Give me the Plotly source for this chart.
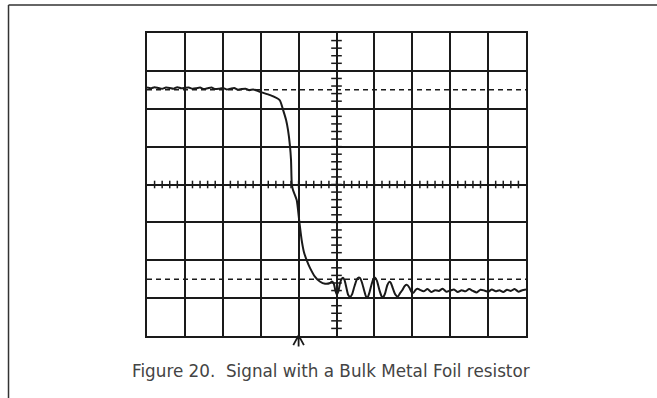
import plotly.graph_objects as go

# Oscilloscope trace, in screen divisions (x: 0..10, y: -4..4)
time_div = [0.0, 0.1, 0.2, 0.3, 0.4, 0.5, 0.6, 0.7, 0.8, 0.9,
            1.0, 1.1, 1.2, 1.3, 1.4, 1.5, 1.6, 1.7, 1.8, 1.9,
            2.0, 2.1, 2.2, 2.3, 2.4, 2.5, 2.6, 2.7, 2.8, 2.9,
            3.0, 3.25, 3.5, 3.59, 3.67, 3.72, 3.77, 3.80, 3.82, 3.85,
            3.95, 4.02, 4.08, 4.14, 4.21, 4.30, 4.43, 4.56, 4.70, 4.83,
            4.88, 4.93, 4.97, 5.01, 5.05, 5.09, 5.13, 5.17, 5.21, 5.26,
            5.31, 5.36, 5.41, 5.47, 5.53, 5.58, 5.62, 5.67, 5.73, 5.78,
            5.82, 5.87, 5.93, 5.98, 6.02, 6.07, 6.13, 6.19, 6.23, 6.28,
            6.34, 6.39, 6.43, 6.48, 6.55, 6.62, 6.67, 6.73, 6.80, 6.86,
            6.92, 6.98, 7.03, 7.09, 7.14,
            7.2, 7.3, 7.4, 7.5, 7.6, 7.7, 7.8, 7.9, 8.0, 8.1,
            8.2, 8.3, 8.4, 8.5, 8.6, 8.7, 8.8, 8.9, 9.0, 9.1,
            9.2, 9.3, 9.4, 9.5, 9.6, 9.7, 9.8, 9.9, 10.0]
signal_div = [2.56, 2.54, 2.57, 2.55, 2.53, 2.56, 2.55, 2.53, 2.57, 2.54,
              2.55, 2.56, 2.53, 2.54, 2.56, 2.52, 2.54, 2.56, 2.52, 2.53,
              2.55, 2.51, 2.53, 2.55, 2.50, 2.52, 2.53, 2.49, 2.51, 2.48,
              2.44, 2.36, 2.23, 1.97, 1.70, 1.44, 1.04, 0.65, 0.02, -0.14,
              -0.41, -0.99, -1.46, -1.78, -1.99, -2.20, -2.43, -2.56, -2.62, -2.60,
              -2.56, -2.62, -2.80, -2.91, -2.82, -2.62, -2.50, -2.46, -2.52, -2.72,
              -2.92, -2.97, -2.90, -2.70, -2.52, -2.46, -2.47, -2.58, -2.80, -2.96,
              -2.98, -2.85, -2.62, -2.48, -2.46, -2.55, -2.78, -2.95, -2.98, -2.88,
              -2.66, -2.57, -2.59, -2.72, -2.90, -2.96, -2.88, -2.80, -2.68, -2.65,
              -2.72, -2.84, -2.86, -2.78, -2.75,
              -2.78, -2.82, -2.76, -2.84, -2.79, -2.81, -2.75, -2.83, -2.80, -2.77,
              -2.84, -2.79, -2.82, -2.76, -2.81, -2.85, -2.78, -2.80, -2.83, -2.77,
              -2.82, -2.79, -2.84, -2.78, -2.81, -2.76, -2.83, -2.79, -2.77]

x_divs = 10
y_divs = 8
ref_levels = [2.5, -2.5]
trigger_pos = 4.0
caption = "Figure 20.  Signal with a Bulk Metal Foil resistor"

ink = "#1a1a1a"
fig = go.Figure()

fig.add_trace(go.Scatter(x=time_div, y=signal_div, mode="lines",
                         line=dict(color=ink, width=2, shape="spline", smoothing=0.6),
                         hoverinfo="skip", showlegend=False))

shapes = []
# dashed reference levels
for lv in ref_levels:
    shapes.append(dict(type="line", xref="x", yref="y", x0=0, x1=x_divs, y0=lv, y1=lv,
                       line=dict(color=ink, width=1.6, dash="5px,4px")))
# minor ticks on centre axes
for i in range(1, x_divs * 5):
    xv = i / 5
    shapes.append(dict(type="line", xref="x", yref="y", x0=xv, x1=xv, y0=-0.1, y1=0.1,
                       line=dict(color=ink, width=1.5)))
for i in range(1, y_divs * 5):
    yv = -4 + i / 5
    shapes.append(dict(type="line", xref="x", yref="y", x0=4.86, x1=5.14, y0=yv, y1=yv,
                       line=dict(color=ink, width=1.5)))
# trigger marker below the screen
t = trigger_pos
shapes.append(dict(type="path", xref="x", yref="paper",
                   path=f"M {t-0.14},-0.03 L {t},0.002 L {t+0.14},-0.03 M {t},0.002 L {t},-0.035",
                   line=dict(color=ink, width=1.8)))
# outer page frame (open at right/bottom)
shapes.append(dict(type="line", xref="paper", yref="paper", x0=-0.3654, x1=1.4,
                   y0=1.0924, y1=1.0924, line=dict(color="#333333", width=1.5)))
shapes.append(dict(type="line", xref="paper", yref="paper", x0=-0.3654, x1=-0.3654,
                   y0=1.0924, y1=-0.3, line=dict(color="#333333", width=1.5)))

fig.update_layout(
    width=657, height=398,
    margin=dict(l=147, r=131, t=33, b=62),
    paper_bgcolor="white", plot_bgcolor="white",
    shapes=shapes,
    xaxis=dict(range=[0, x_divs], dtick=1, showgrid=True, gridcolor=ink, gridwidth=1.8,
               showticklabels=False, zeroline=False, showline=True, linecolor=ink,
               linewidth=2, mirror=True, ticks="", fixedrange=True),
    yaxis=dict(range=[-4, 4], dtick=1, showgrid=True, gridcolor=ink, gridwidth=1.8,
               showticklabels=False, zeroline=False, showline=True, linecolor=ink,
               linewidth=2, mirror=True, ticks="", fixedrange=True),
    annotations=[
        dict(text=caption, xref="paper", yref="paper", x=0.4855, y=-0.1155,
             xanchor="center", yanchor="middle", showarrow=False,
             font=dict(family="DejaVu Sans", size=16.8, color="#444444")),
    ],
)

fig.write_html("out.html")
